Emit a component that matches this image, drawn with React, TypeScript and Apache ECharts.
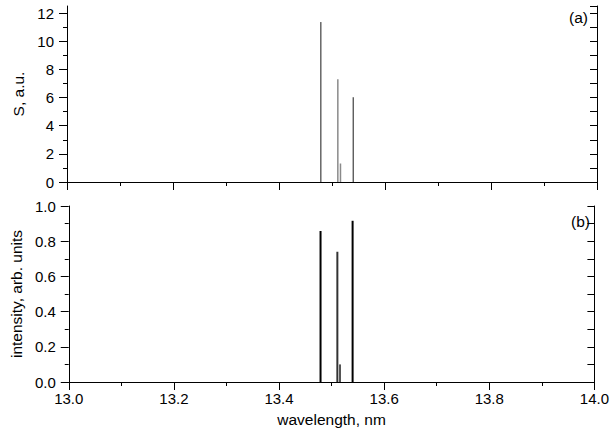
import React, { useEffect, useRef } from "react";
import * as echarts from "echarts";

const wavelengthMin = 13.0;
const wavelengthMax = 14.0;
const peakWavelengths = [13.479, 13.511, 13.516, 13.54];
const sValues = [11.36, 7.3, 1.31, 6.02];
const intensityValues = [0.858, 0.74, 0.1, 0.916];
const sMajorTicks = [0, 2, 4, 6, 8, 10, 12];
const sMinorTicks = [1, 3, 5, 7, 9, 11];
const topColors = ["#1a1a1a", "#8a8a8a", "#8a8a8a", "#1a1a1a"];
const topWidths = [1, 1.5, 1.5, 1];
const bottomColors = ["#000000", "#333333", "#555555", "#000000"];

const FONT = "Liberation Sans, Arial, Helvetica, sans-serif";
const black = "#000";

export default function App() {
  const ref = useRef<HTMLDivElement>(null);
  useEffect(() => {
    if (!ref.current) return;
    const chart = echarts.init(ref.current, null, { renderer: "svg" });
    const axisLine = { show: true, lineStyle: { color: black, width: 1 } };
    const baseX = {
      type: "value",
      min: wavelengthMin,
      max: wavelengthMax,
      interval: 0.2,
      splitLine: { show: false },
      axisLine,
    };
    const series: any[] = [];
    peakWavelengths.forEach((w, i) => {
      series.push({
        type: "line",
        xAxisIndex: 0,
        yAxisIndex: 0,
        symbol: "none",
        data: [
          [w, 0],
          [w, sValues[i]],
        ],
        lineStyle: { color: topColors[i], width: topWidths[i] },
        z: 1,
      });
      series.push({
        type: "line",
        xAxisIndex: 2,
        yAxisIndex: 3,
        symbol: "none",
        data: [
          [w, 0],
          [w, intensityValues[i]],
        ],
        lineStyle: { color: bottomColors[i], width: 2 },
        z: 1,
      });
    });
    chart.setOption({
      animation: false,
      backgroundColor: "#fff",
      textStyle: { fontFamily: FONT },
      grid: [
        { left: 67, top: 6, width: 530, height: 176, containLabel: false },
        { left: 67, top: 206, width: 530, height: 176, containLabel: false },
      ],
      xAxis: [
        {
          ...baseX,
          gridIndex: 0,
          position: "bottom",
          axisTick: { show: true, length: 8, lineStyle: { color: black } },
          minorTick: { show: true, splitNumber: 2, length: 4, lineStyle: { color: black } },
          axisLabel: { show: false },
        },
        {
          ...baseX,
          gridIndex: 0,
          position: "top",
          axisTick: { show: true, inside: true, length: 8, lineStyle: { color: black } },
          minorTick: { show: true, splitNumber: 2, length: 4, lineStyle: { color: black } },
          axisLabel: { show: false },
        },
        {
          ...baseX,
          gridIndex: 1,
          position: "bottom",
          axisTick: { show: true, length: 8, lineStyle: { color: black } },
          minorTick: { show: true, splitNumber: 2, length: 4, lineStyle: { color: black } },
          axisLabel: {
            show: true,
            margin: 9,
            fontSize: 15,
            color: black,
            fontFamily: FONT,
            formatter: (v: number) => v.toFixed(1),
          },
          name: "wavelength, nm",
          nameLocation: "middle",
          nameGap: 29,
          nameTextStyle: { fontSize: 15.5, color: black, fontFamily: FONT },
        },
        {
          ...baseX,
          gridIndex: 1,
          position: "top",
          axisTick: { show: true, inside: true, length: 8, lineStyle: { color: black } },
          minorTick: { show: true, splitNumber: 2, length: 4, lineStyle: { color: black } },
          axisLabel: { show: false },
        },
      ],
      yAxis: [
        {
          type: "value",
          gridIndex: 0,
          position: "left",
          min: 0,
          max: 12.5,
          interval: 2,
          splitLine: { show: false },
          axisLine,
          axisTick: { show: true, length: 8, customValues: sMajorTicks, lineStyle: { color: black } },
          axisLabel: {
            show: true,
            margin: 13,
            fontSize: 15,
            color: black,
            fontFamily: FONT,
            customValues: sMajorTicks,
          },
          name: "S, a.u.",
          nameLocation: "middle",
          nameGap: 35,
          nameTextStyle: { fontSize: 15.5, color: black, fontFamily: FONT },
        },
        {
          type: "value",
          gridIndex: 0,
          position: "left",
          min: 0,
          max: 12.5,
          interval: 1,
          splitLine: { show: false },
          axisLine: { show: false },
          axisTick: { show: true, length: 4, customValues: sMinorTicks, lineStyle: { color: black } },
          axisLabel: { show: false },
        },
        {
          type: "value",
          gridIndex: 0,
          position: "right",
          min: 0,
          max: 12.5,
          interval: 1,
          splitLine: { show: false },
          axisLine,
          axisTick: { show: true, inside: true, length: 7, lineStyle: { color: black } },
          axisLabel: { show: false },
        },
        {
          type: "value",
          gridIndex: 1,
          position: "left",
          min: 0,
          max: 1,
          interval: 0.2,
          splitLine: { show: false },
          axisLine,
          axisTick: { show: true, length: 8, lineStyle: { color: black } },
          minorTick: { show: true, splitNumber: 2, length: 4, lineStyle: { color: black } },
          axisLabel: {
            show: true,
            margin: 13,
            fontSize: 15,
            color: black,
            fontFamily: FONT,
            formatter: (v: number) => v.toFixed(1),
          },
          name: "intensity, arb. units",
          nameLocation: "middle",
          nameGap: 37,
          nameTextStyle: { fontSize: 15.5, color: black, fontFamily: FONT },
        },
        {
          type: "value",
          gridIndex: 1,
          position: "right",
          min: 0,
          max: 1,
          interval: 0.1,
          splitLine: { show: false },
          axisLine,
          axisTick: { show: true, inside: true, length: 7, lineStyle: { color: black } },
          axisLabel: { show: false },
        },
      ],
      graphic: [
        {
          type: "text",
          right: 24,
          top: 9,
          style: { text: "(a)", fontSize: 15.5, fill: black, fontFamily: FONT },
        },
        {
          type: "text",
          right: 22,
          top: 213,
          style: { text: "(b)", fontSize: 15.5, fill: black, fontFamily: FONT },
        },
      ],
      series,
    });
    return () => chart.dispose();
  }, []);
  return (
    <div
      ref={ref}
      style={{ position: "absolute", left: 0, top: 0, width: 612, height: 443 }}
    />
  );
}
